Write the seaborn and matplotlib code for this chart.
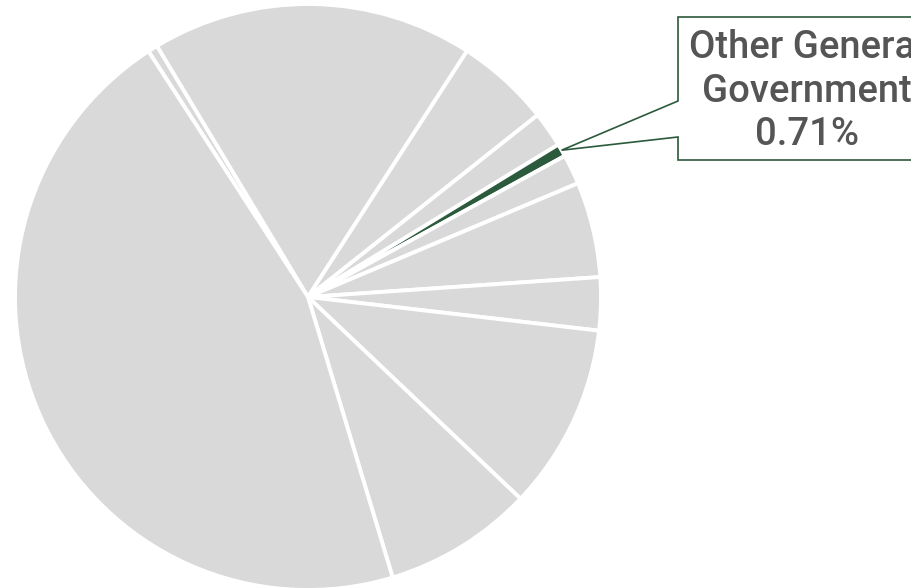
import numpy as np
import matplotlib
matplotlib.use("Agg")
import matplotlib.pyplot as plt
from matplotlib.patches import Polygon
import seaborn as sns

# Share of spending by sector (%), listed clockwise from the upper-left edge
categories = [
    "Sector A", "Sector B", "Sector C", "Sector D",
    "Other General Government",
    "Sector E", "Sector F", "Sector G", "Sector H", "Sector I", "Sector J",
]
shares = [0.55, 17.75, 5.20, 1.96, 0.71, 1.65, 5.26, 2.92, 10.25, 8.25, 45.50]
highlight = "Other General Government"

sns.set_theme(style="white")
plt.rcParams["font.family"] = ["Roboto", "DejaVu Sans"]

W, H = 912, 588
fig = plt.figure(figsize=(W / 100, H / 100), dpi=100)
fig.patch.set_facecolor("white")

# Square axes holding the pie (center ~ (308, 297) px, radius ~ 293 px)
cx, cy, r = 308, 297, 293
ax = fig.add_axes([(cx - r) / W, (H - cy - r) / H, 2 * r / W, 2 * r / H])

gray = "#d9d9d9"
green = "#2b5a3c"
colors = [green if c == highlight else gray for c in categories]

wedges, _ = ax.pie(
    shares,
    colors=colors,
    startangle=123,
    counterclock=False,
    radius=1.0,
    wedgeprops=dict(edgecolor="white", linewidth=2.8),
)
ax.set_xlim(-1, 1)
ax.set_ylim(-1, 1)
ax.set_axis_off()

# Callout for the highlighted slice
idx = categories.index(highlight)
w = wedges[idx]
mid = np.deg2rad((w.theta1 + w.theta2) / 2)
tip_disp = ax.transData.transform((np.cos(mid) * w.r, np.sin(mid) * w.r))
tip = fig.transFigure.inverted().transform(tip_disp)

def fx(px):
    return px / W

def fy(py):
    return (H - py) / H

box_left, box_top, box_bottom, box_right = 678, 17, 160, 960
notch_top, notch_bottom = 101, 137
pts = [
    (fx(box_left), fy(box_top)),
    (fx(box_right), fy(box_top)),
    (fx(box_right), fy(box_bottom)),
    (fx(box_left), fy(box_bottom)),
    (fx(box_left), fy(notch_bottom)),
    (tip[0], tip[1]),
    (fx(box_left), fy(notch_top)),
]
callout = Polygon(pts, closed=True, transform=fig.transFigure,
                  facecolor="white", edgecolor=green, linewidth=1.2,
                  joinstyle="miter", clip_on=False)
fig.add_artist(callout)

label = f"Other General\nGovernment\n{shares[idx]:.2f}%"
fig.text(fx(807), fy(91), label, ha="center", va="center",
         fontsize=27.5, color="#555555", linespacing=1.23,
         fontweight="medium", family=["Roboto", "DejaVu Sans"])

fig.savefig("out.png", dpi=100, facecolor="white")
